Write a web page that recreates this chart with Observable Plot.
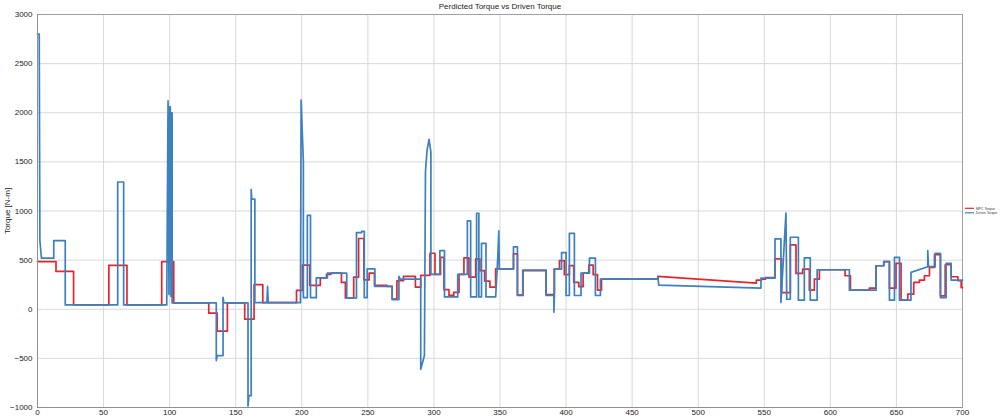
<!DOCTYPE html>
<html><head><meta charset="utf-8">
<script src="https://cdn.jsdelivr.net/npm/d3@7"></script>
<script src="https://cdn.jsdelivr.net/npm/@observablehq/plot@0.6"></script>
<style>
body{margin:0;background:#fff;font-family:"Liberation Sans",Arial,sans-serif;}
#wrap{position:relative;width:1000px;height:420px;overflow:hidden;background:#fff;}
#title{height:12px;line-height:13px;font-size:8px;text-align:center;color:#222;}
#legend{position:absolute;left:964px;top:204px;}
</style></head><body>
<div id="wrap">
<div id="title">Perdicted Torque vs Driven Torque</div>
<div id="chart"></div>
<svg id="legend" width="36" height="12" font-family="Liberation Sans, Arial, sans-serif">
  <line x1="1" x2="10" y1="4.3" y2="4.3" stroke="#e3262e" stroke-width="1.2"/>
  <text x="12" y="5.5" font-size="3.4" fill="#333">MPC Torque</text>
  <line x1="1" x2="10" y1="8.8" y2="8.8" stroke="#3c80c0" stroke-width="1.2"/>
  <text x="12" y="10" font-size="3.4" fill="#333">Driven Torque</text>
</svg>
</div>
<script>
// Tick values
const xTicks = [0,50,100,150,200,250,300,350,400,450,500,550,600,650,700];
const yTicks = [-1000,-500,0,500,1000,1500,2000,2500,3000];
const seriesNames = ["MPC Torque","Driven Torque"];

// MPC (predicted) torque: [start time s, value N-m, optional end value for ramps]
const mpcSteps = [
 [0,485],[14,386],[27.3,44],[54,447],[67.7,44],[94,485],[103.1,64],[129.6,-40],[136,-222],
 [143.7,64],[156.8,-100],[163.9,250],[170.5,67],[196,192],[200.5,450],[206,243],[214,320],
 [218.7,354],[222,367],[230,273],[233,115],[239.3,327],[243,720],[247,300],[251,367],[255,243],
 [264.5,232],[268.4,104],[272,290],[277,334],[286,226],[290,344],[297,570],[300.8,354],[305,529],
 [307.6,199],[311.4,141],[315,172],[319,354],[322.7,522],[326.5,327],[331.6,512],[334.8,394],
 [338.4,286],[342.4,226],[346.7,411],[360.2,563],[363.2,141],[367.4,394],[384.8,150],[391,409],
 [395,494],[398.7,352],[402.5,444],[405.8,273],[409.6,230],[412.9,368],[417.2,449],[420.5,352],
 [423.8,195],[426.8,307],[469.4,335,265],[544,297],[548,307],[551,322],[558.1,512],[563.1,170],
 [569.7,655],[574,365],[579,409],[584.1,194],[587.9,307],[591.7,402],[611.1,341],[615.2,194],
 [629.5,215],[634.6,443],[640.4,484],[644.7,215],[649.7,467],[653.5,92],[658.6,153],[663.1,273],
 [667.4,297],[671.2,341],[675,426],[678.8,556],[683.3,136],[686.9,453],[691.4,331],[696.5,290],
 [699,221],[700]
];

// Driven torque: [start time s, value N-m, optional end value for ramps]
const drivenSteps = [
 [0,2800],[1.3,2800,700],[1.8,700,520],[3,520],[12.3,698],[21,44],[60.7,1295],[65.2,44],
 [97.8,44,2120],[98.8,2120,150],[99.5,150,2060],[100,2060],[100.5,2060,130],[101,130,2000],
 [101.4,2000],[101.9,64],[135.3,-522,-471],[136,-471],[140.4,122,64],[141,64],[159.3,-985,-880],
 [160,-880],[161.7,1220,1120],[162.2,1120],[164.5,67],[173.6,67,232],[174.1,232,67],[174.6,67],
 [199,67,2130],[199.5,2130,1500],[201.2,118],[204.2,955],[206.6,118],[211,320],[219.4,367],
 [234,115],[241.4,780],[245.3,792],[247.3,118],[249.5,411],[255.3,232],[268.4,98],[273.5,334,307],
 [274.5,307],[290,-610,-470],[292.8,-470,1400],[293.6,1400,1620],[294.8,1620,1730],
 [296.3,1730,1600],[297.7,354],[304.5,597],[308,125],[318,354],[325.3,900],[327.8,125],
 [332.3,977],[334,125],[336,670],[339.4,125],[346.7,125,546],[348.4,546,799],[349.1,799,411],
 [349.5,411],[360.2,634],[363.2,147],[367.2,399],[384.9,140],[390.8,-30,200],[391.3,409],
 [396.6,577],[400,140],[402.5,773],[406.3,140],[411.3,368],[417.7,521],[422.2,140],[426,307],
 [469.4,331,246],[470.2,246,216],[547.5,317],[558.1,716],[562.6,68,979],[566.4,979,102],
 [567,102],[569.7,733],[575.8,92],[580.3,522],[584.8,92],[590,402],[614.4,194],[634.6,443],
 [640.4,484],[644.7,92],[648.5,528],[652.3,92],[661,375,433],[673.7,597,433],[674.3,433],
 [679.3,570],[683.3,119],[687.6,467],[691.4,297],[700]
];

const seriesColors = ["#e3262e", "#3c80c0"];

function toVertices(steps, name) {
  const pts = [];
  for (let i = 0; i < steps.length - 1; i++) {
    const [t, v, e] = steps[i];
    pts.push({time: t, torque: v, series: name});
    pts.push({time: steps[i + 1][0], torque: e ?? v, series: name});
  }
  return pts;
}

const mpc = toVertices(mpcSteps, seriesNames[0]);
const driven = toVertices(drivenSteps, seriesNames[1]);
const fmt = d3.format("d");

const chart = Plot.plot({
  width: 1000,
  height: 408,
  marginLeft: 37,
  marginRight: 38,
  marginTop: 2,
  marginBottom: 13,
  style: {fontFamily: "Liberation Sans, Arial, sans-serif", background: "transparent", overflow: "visible"},
  x: {domain: [0, 700]},
  y: {domain: [-1000, 3000]},
  marks: [
    Plot.gridX(xTicks, {stroke: "#d9d9d9", strokeOpacity: 1}),
    Plot.gridY(yTicks, {stroke: "#d9d9d9", strokeOpacity: 1}),
    Plot.frame({stroke: "#a0a0a0"}),
    Plot.line(mpc, {x: "time", y: "torque", stroke: seriesColors[0], strokeWidth: 1.7}),
    Plot.line(driven, {x: "time", y: "torque", stroke: seriesColors[1], strokeWidth: 1.7}),
    Plot.axisX({ticks: xTicks, tickSize: 0, tickPadding: 2, fontSize: 8, tickFormat: fmt,
      label: "Time [s]", labelAnchor: "center", labelArrow: "none", labelOffset: 17, color: "#222"}),
    Plot.axisY({ticks: yTicks, tickSize: 0, tickPadding: 5, fontSize: 8, tickFormat: fmt,
      label: "Torque [N-m]", labelAnchor: "center", labelArrow: "none", labelOffset: 33, color: "#222"}),
    Plot.ruleX([0], {stroke: "#909090"}),
    Plot.ruleY([-1000], {stroke: "#909090"})
  ]
});
document.getElementById("chart").appendChild(chart);
</script>
</body></html>
